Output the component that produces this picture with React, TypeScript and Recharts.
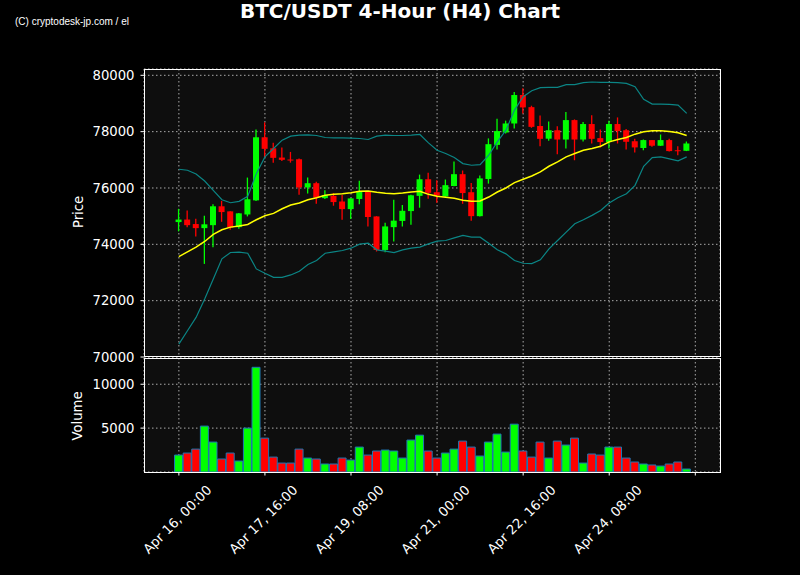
import { ComposedChart, Bar, Line, XAxis, YAxis, CartesianGrid, Cell } from 'recharts';

// 4h candles, Apr 16 00:00 -> Apr 25 20:00
const opens = [
  74790, 74880, 74720, 74575, 74680, 75350, 75170, 74610, 75060, 75560,
  77800, 77410, 77080, 77010, 77020, 76020, 76170, 75640, 75720, 75520,
  75250, 75610, 75870, 74990, 73800, 74610, 74830, 75180, 75720, 76310,
  75850, 75700, 76070, 76490, 75850, 75000, 76320, 77530, 77970, 78290,
  79300, 78870, 78200, 77750, 78050, 77720, 78410, 77720, 78270, 77770,
  77630, 78270, 78050, 77660, 77420, 77700, 77500, 77700, 77340, 77320,
];
const closes = [
  74880, 74680, 74575, 74710, 75350, 75145, 74590, 75100, 75600, 77800,
  77390, 77070, 77000, 76985, 76020, 76170, 75660, 75750, 75500, 75250,
  75630, 75860, 74970, 73800, 74635, 74840, 75190, 75740, 76310, 75830,
  75730, 76100, 76490, 75820, 75000, 76340, 77555, 78020, 78290, 79300,
  78860, 78170, 77745, 78050, 77720, 78410, 77720, 78270, 77745, 77630,
  78270, 78020, 77640, 77440, 77700, 77500, 77700, 77310, 77320, 77580,
];
const highs = [
  75260, 75200, 74910, 75015, 75420, 75540, 75170, 75110, 76370, 78080,
  78330, 77610, 77440, 77280, 77045, 76370, 76225, 75920, 75820, 75750,
  75640, 76260, 75890, 75000, 74765, 75585, 75395, 75760, 76475, 76545,
  76275, 76300, 76940, 76620, 76180, 76440, 77760, 78460, 78390, 79410,
  79540, 78920, 78575, 78360, 78195, 78695, 78435, 78340, 78585, 78080,
  78385, 78505, 78090, 77745, 77720, 77700, 77900, 77745, 77485, 77650,
];
const lows = [
  74460, 74610, 74280, 73305, 73900, 74800, 74515, 74550, 74990, 75535,
  77080, 76900, 76960, 76900, 75760, 75800, 75440, 75610, 75370, 74870,
  74895, 75420, 74635, 73745, 73720, 74100, 74635, 74695, 75300, 75620,
  75475, 75690, 76060, 75440, 74835, 74990, 76155, 77365, 77935, 78110,
  78645, 78135, 77485, 77675, 77200, 77400, 76985, 77650, 77580, 77435,
  77400, 77580, 77365, 77260, 77340, 77460, 77490, 77295, 77165, 77310,
];
const volumes = [
  1930, 2160, 2610, 5230, 3410, 1480, 2160, 1250, 5000, 11930,
  3860, 1700, 1020, 1020, 2610, 1590, 1480, 910, 910, 1590,
  1360, 2840, 1930, 2390, 2500, 2390, 1590, 3640, 4200, 2390,
  1590, 2160, 2610, 3520, 2840, 1820, 3410, 4320, 2270, 5450,
  2390, 1700, 3410, 1590, 3520, 3070, 3860, 1020, 2050, 1930,
  2840, 2840, 1590, 1140, 910, 800, 680, 910, 1140, 340,
];
const maValues = [
  73566, 73733, 73899, 74101, 74350, 74516, 74611, 74647, 74706, 74872,
  75015, 75098, 75264, 75394, 75466, 75584, 75656, 75739, 75774, 75798,
  75834, 75881, 75893, 75846, 75810, 75798, 75822, 75857, 75881, 75774,
  75703, 75667, 75632, 75561, 75525, 75537, 75679, 75857, 76000, 76190,
  76308, 76427, 76570, 76771, 76926, 77104, 77222, 77341, 77400, 77484,
  77638, 77721, 77792, 77911, 77994, 78030, 78030, 78006, 77958, 77863,
];
const upperBand = [
  76665, 76629, 76498, 76249, 75917, 75584, 75477, 75525, 75703, 76510,
  77104, 77400, 77697, 77840, 77875, 77887, 77863, 77792, 77780, 77780,
  77768, 77757, 77721, 77840, 77875, 77863, 77863, 77875, 77899, 77602,
  77341, 77222, 77080, 76866, 76807, 76831, 77163, 77638, 78053, 78766,
  79240, 79454, 79561, 79573, 79573, 79668, 79668, 79739, 79763, 79751,
  79751, 79739, 79715, 79596, 79145, 78979, 78979, 78967, 78943, 78647,
];
const lowerBand = [
  70457, 70932, 71406, 72059, 72771, 73483, 73709, 73721, 73685, 73127,
  72973, 72830, 72830, 72913, 73044, 73282, 73424, 73685, 73733, 73780,
  73863, 74006, 74041, 73804, 73756, 73709, 73804, 73863, 73899, 74018,
  74113, 74136, 74231, 74314, 74255, 74255, 74041, 73804, 73661, 73424,
  73329, 73317, 73448, 73840, 74136, 74433, 74730, 74872, 75027, 75204,
  75466, 75656, 75798, 76095, 76771, 77080, 77104, 77033, 76961, 77104,
];

const tickPositions = [0, 10, 20, 30, 40, 50, 60];
const tickLabels = ['Apr 16, 00:00', 'Apr 17, 16:00', 'Apr 19, 08:00', 'Apr 21, 00:00', 'Apr 22, 16:00', 'Apr 24, 08:00', ''];
const priceTicks = [70000, 72000, 74000, 76000, 78000, 80000];
const volumeTicks = [5000, 10000];

const data = opens.map((open, i) => ({
  i,
  open,
  close: closes[i],
  high: highs[i],
  low: lows[i],
  volume: volumes[i],
  ma: maValues[i],
  upper: upperBand[i],
  lower: lowerBand[i],
}));

const UP = '#00ff00';
const DOWN = '#ff0000';
const FONT = 'DejaVu Sans, sans-serif';
const X_DOMAIN = [-4.05, 62.87];

const Candle = (props: any) => {
  const { x, y, width, height, payload } = props;
  const { open, close, high, low } = payload;
  const color = close >= open ? UP : DOWN;
  const k = height / (high - low);
  const yOf = (p: number) => y + (high - p) * k;
  const mid = x + width / 2;
  const top = yOf(Math.max(open, close));
  const h = Math.max(1, Math.abs(yOf(open) - yOf(close)));
  return (
    <g>
      <line x1={mid} x2={mid} y1={y} y2={y + height} stroke={color} strokeWidth={1.3} />
      <rect x={x} y={top} width={width} height={h} fill={color} />
    </g>
  );
};

const XTick = ({ x, y, payload }: any) => {
  const label = tickLabels[tickPositions.indexOf(payload.value)] ?? '';
  const cx = x - 1.5;
  const cy = y + 44;
  return (
    <text x={cx} y={cy} textAnchor="middle" dominantBaseline="central" transform={`rotate(-45, ${cx}, ${cy})`}
      fill="#fff" fontSize={13.2} fontFamily={FONT}>
      {label}
    </text>
  );
};

const tickStyle = { fill: '#fff', fontSize: 13.2, fontFamily: FONT };

export default function App() {
  return (
    <div style={{ position: 'absolute', left: 0, top: 0, width: 800, height: 575, background: '#000', overflow: 'hidden' }}>
      <div style={{ position: 'absolute', left: 15, top: 16, color: '#fff', fontFamily: 'Liberation Sans, Arial, sans-serif', fontSize: 10, whiteSpace: 'nowrap' }}>
        (C) cryptodesk-jp.com / el
      </div>
      <div style={{ position: 'absolute', left: 0, width: 800, top: -1, textAlign: 'center', color: '#fff', fontFamily: FONT, fontWeight: 'bold', fontSize: 20 }}>
        BTC/USDT 4-Hour (H4) Chart
      </div>
      <div style={{ position: 'absolute', left: 78, top: 212, transform: 'translate(-50%, -50%) rotate(-90deg)', color: '#fff', fontFamily: FONT, fontSize: 13.2 }}>
        Price
      </div>
      <div style={{ position: 'absolute', left: 77, top: 416, transform: 'translate(-50%, -50%) rotate(-90deg)', color: '#fff', fontFamily: FONT, fontSize: 13.2 }}>
        Volume
      </div>

      <div style={{ position: 'absolute', left: 0, top: 357 }}>
        <ComposedChart width={800} height={218} data={data} margin={{ top: 1, right: 80, bottom: 0, left: 0 }}>
          <CartesianGrid stroke="#aaa" strokeDasharray="1.5 2.5" fill="#0e0e0e" />
          <XAxis dataKey="i" type="number" domain={X_DOMAIN} ticks={tickPositions} allowDataOverflow height={103}
            axisLine={false} tick={<XTick />} tickSize={3.5} tickMargin={0} tickLine={{ stroke: '#fff' }} interval={0} />
          <YAxis domain={[0, 12990]} ticks={volumeTicks} interval={0} allowDataOverflow width={144} axisLine={false}
            tick={tickStyle} tickSize={3.5} tickMargin={6} tickLine={{ stroke: '#fff' }} />
          <Bar dataKey="volume" barSize={8} stroke="#1f77b4" strokeWidth={1} isAnimationActive={false}>
            {data.map((d) => (
              <Cell key={d.i} fill={d.close >= d.open ? UP : DOWN} />
            ))}
          </Bar>
        </ComposedChart>
      </div>

      <div style={{ position: 'absolute', left: 0, top: 0 }}>
        <ComposedChart width={800} height={366} data={data} margin={{ top: 69, right: 80, bottom: 9, left: 0 }}>
          <CartesianGrid stroke="#aaa" strokeDasharray="1.5 2.5" fill="#0e0e0e" />
          <XAxis dataKey="i" type="number" domain={X_DOMAIN} ticks={tickPositions} allowDataOverflow hide />
          <YAxis domain={[70000, 80224]} ticks={priceTicks} interval={0} allowDataOverflow width={144} axisLine={false}
            tick={tickStyle} tickSize={3.5} tickMargin={6} tickLine={{ stroke: '#fff' }} />
          <Bar dataKey={(d: any) => [d.low, d.high]} barSize={6} shape={<Candle />} isAnimationActive={false} />
          <Line dataKey="upper" stroke="#0b8585" strokeWidth={1.2} dot={false} activeDot={false} isAnimationActive={false} />
          <Line dataKey="lower" stroke="#0b8585" strokeWidth={1.2} dot={false} activeDot={false} isAnimationActive={false} />
          <Line dataKey="ma" stroke="#ffff00" strokeWidth={1.5} dot={false} activeDot={false} isAnimationActive={false} />
        </ComposedChart>
      </div>

      <div style={{ position: 'absolute', left: 144, top: 69, width: 575, height: 286, border: '1px solid #fff', pointerEvents: 'none' }} />
      <div style={{ position: 'absolute', left: 144, top: 358, width: 575, height: 113, border: '1px solid #fff', pointerEvents: 'none' }} />
    </div>
  );
}
